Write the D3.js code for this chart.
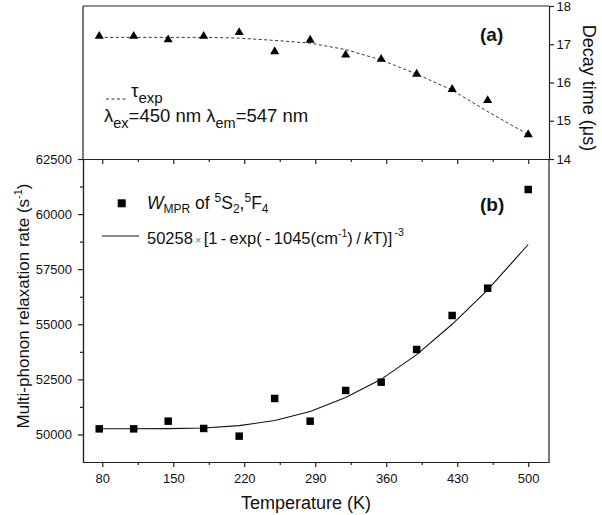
<!DOCTYPE html>
<html>
<head>
<meta charset="utf-8">
<script src="https://cdn.jsdelivr.net/npm/d3@7"></script>
<style>
  html, body { margin: 0; padding: 0; background: #fff; overflow: hidden; }
  svg { display: block; }
  svg text { font-family: "Liberation Sans", Arial, sans-serif; fill: #111; }
  .axis path, .axis line { stroke: #222; stroke-width: 1.2; }
  .axis text { font-size: 13px; }
</style>
</head>
<body>
<div id="root"></div>
<script>
// data
const temps = [77, 111, 145, 180, 215, 250, 285, 320, 355, 390, 425, 460, 500]
const decayTime = [17.21, 17.21, 17.12, 17.21, 17.31, 16.81, 17.11, 16.72, 16.61, 16.22, 15.82, 15.53, 14.64]
const decayFit = [17.18, 17.18, 17.18, 17.18, 17.16, 17.10, 17.03, 16.86, 16.59, 16.22, 15.80, 15.24, 14.64]
const relaxRate = [50254, 50254, 50603, 50272, 49923, 51633, 50603, 51996, 52373, 53857, 55399, 56638, 61116]
const relaxFit = [50258, 50258, 50263, 50295, 50400, 50630, 51040, 51680, 52500, 53620, 55000, 56560, 58620]
const xTicks = [80, 150, 220, 290, 360, 430, 500]
const xMinor = [115, 185, 255, 325, 395, 465]
const leftTicks = [50000, 52500, 55000, 57500, 60000, 62500]
const leftMinor = [51250, 53750, 56250, 58750, 61250]
const rightTicks = [14, 15, 16, 17, 18]

const w = 602, h = 515
const left = 83, right = 549, topY = 6, midY = 159, botY = 462

//scales
const x = d3.scaleLinear().domain([61, 520.5]).range([left, right])
const yTop = d3.scaleLinear().domain([14, 18]).range([midY, topY])
const yBot = d3.scaleLinear().domain([48750, 62500]).range([botY, midY])

const svg = d3.select("#root").append("svg")
    .attr("width", w)
    .attr("height", h)

// frame lines not covered by axes
const frame = [
    [left, topY, right, topY],
    [left, topY, left, midY],
    [right, midY, right, botY]
]
svg.selectAll("line.frame").data(frame).enter().append("line")
    .attr("class", "frame")
    .attr("x1", d => d[0]).attr("y1", d => d[1])
    .attr("x2", d => d[2]).attr("y2", d => d[3])
    .attr("stroke", "#222").attr("stroke-width", 1.2)

// bottom axis
svg.append("g").attr("class", "axis")
    .attr("transform", `translate(0,${botY})`)
    .call(d3.axisBottom(x).tickValues(xTicks).tickSize(5).tickSizeOuter(0).tickPadding(6.5))
svg.append("g").attr("class", "axis")
    .attr("transform", `translate(0,${botY})`)
    .call(d3.axisBottom(x).tickValues(xMinor).tickSize(3).tickSizeOuter(0).tickFormat(""))

// middle line, ticks pointing down
svg.append("g").attr("class", "axis")
    .attr("transform", `translate(0,${midY})`)
    .call(d3.axisBottom(x).tickValues(xTicks).tickSize(5).tickSizeOuter(0).tickFormat(""))
svg.append("g").attr("class", "axis")
    .attr("transform", `translate(0,${midY})`)
    .call(d3.axisBottom(x).tickValues(xMinor).tickSize(3).tickSizeOuter(0).tickFormat(""))

// left axis (b)
svg.append("g").attr("class", "axis")
    .attr("transform", `translate(${left},0)`)
    .call(d3.axisLeft(yBot).tickValues(leftTicks).tickSize(5).tickSizeOuter(0).tickPadding(6).tickFormat(d3.format("d")))
svg.append("g").attr("class", "axis")
    .attr("transform", `translate(${left},0)`)
    .call(d3.axisLeft(yBot).tickValues(leftMinor).tickSize(3).tickSizeOuter(0).tickFormat(""))

// right axis (a)
svg.append("g").attr("class", "axis")
    .attr("transform", `translate(${right},0)`)
    .call(d3.axisRight(yTop).tickValues(rightTicks).tickSize(5).tickSizeOuter(0).tickPadding(2.5).tickFormat(d3.format("d")))

// axis titles
svg.append("text")
    .attr("x", 306).attr("y", 509)
    .attr("text-anchor", "middle").attr("font-size", 18)
    .text("Temperature (K)")

const yl = svg.append("text")
    .attr("transform", "translate(29,306) rotate(-90)")
    .attr("text-anchor", "middle").attr("font-size", 17)
yl.append("tspan").text("Multi-phonon relaxation rate (s")
yl.append("tspan").attr("font-size", 11).attr("dy", -7).text("-1")
yl.append("tspan").attr("dy", 7).text(")")

svg.append("text")
    .attr("transform", "translate(583,88) rotate(90)")
    .attr("text-anchor", "middle").attr("font-size", 18)
    .text("Decay time (\u03bcs)")

// top panel: dashed fit + triangles
const lineTop = d3.line().x((d, i) => x(temps[i])).y(d => yTop(d))
svg.append("path").datum(decayFit)
    .attr("d", lineTop)
    .attr("fill", "none").attr("stroke", "#333").attr("stroke-width", 1)
    .attr("stroke-dasharray", "3,2.5")

svg.selectAll("path.tri").data(decayTime).enter().append("path")
    .attr("class", "tri")
    .attr("d", d3.symbol(d3.symbolTriangle, 36))
    .attr("transform", (d, i) => `translate(${x(temps[i])},${yTop(d)})`)
    .attr("fill", "#000")

// bottom panel: fit line + squares
const lineBot = d3.line().x((d, i) => x(temps[i])).y(d => yBot(d))
svg.append("path").datum(relaxFit)
    .attr("d", lineBot)
    .attr("fill", "none").attr("stroke", "#111").attr("stroke-width", 1.1)

svg.selectAll("path.sq").data(relaxRate).enter().append("path")
    .attr("class", "sq")
    .attr("d", d3.symbol(d3.symbolSquare, 56))
    .attr("transform", (d, i) => `translate(${x(temps[i])},${yBot(d)})`)
    .attr("fill", "#000")

// panel labels
svg.append("text").attr("x", 480).attr("y", 41)
    .attr("font-size", 19).attr("font-weight", "bold").text("(a)")
svg.append("text").attr("x", 480).attr("y", 211)
    .attr("font-size", 19).attr("font-weight", "bold").text("(b)")

// legend (a)
svg.append("line")
    .attr("x1", 106).attr("x2", 127).attr("y1", 99).attr("y2", 99)
    .attr("stroke", "#333").attr("stroke-dasharray", "3,2.5")
const tl = svg.append("text").attr("x", 131).attr("y", 97).attr("font-size", 19)
tl.append("tspan").text("\u03c4")
tl.append("tspan").attr("font-size", 15).attr("dy", 6).text("exp")

const lam = svg.append("text").attr("x", 104).attr("y", 122).attr("font-size", 18.5)
lam.append("tspan").text("\u03bb")
lam.append("tspan").attr("font-size", 14.5).attr("dy", 6).text("ex")
lam.append("tspan").attr("dy", -6).text("=450 nm \u03bb")
lam.append("tspan").attr("font-size", 14.5).attr("dy", 6).text("em")
lam.append("tspan").attr("dy", -6).text("=547 nm")

// legend (b)
svg.append("path")
    .attr("d", d3.symbol(d3.symbolSquare, 64))
    .attr("transform", "translate(121.7,203.3)")
svg.append("line")
    .attr("x1", 102).attr("x2", 139).attr("y1", 236).attr("y2", 236)
    .attr("stroke", "#111").attr("stroke-width", 1.1)

const wl = svg.append("text").attr("x", 147).attr("y", 209).attr("font-size", 17.5)
wl.append("tspan").attr("font-style", "italic").text("W")
wl.append("tspan").attr("font-size", 12).attr("dy", 4).text("MPR")
wl.append("tspan").attr("dy", -4).text(" of ")
wl.append("tspan").attr("font-size", 12).attr("dy", -7).text("5")
wl.append("tspan").attr("dy", 7).text("S")
wl.append("tspan").attr("font-size", 12).attr("dy", 4).text("2")
wl.append("tspan").attr("dy", -4).text(",")
wl.append("tspan").attr("font-size", 12).attr("dy", -7).text("5")
wl.append("tspan").attr("dy", 7).text("F")
wl.append("tspan").attr("font-size", 12).attr("dy", 4).text("4")

const fl = svg.append("text").attr("x", 147).attr("y", 244).attr("font-size", 16.5)
fl.append("tspan").text("50258")
fl.append("tspan").attr("font-size", 11).attr("fill", "#777").text("\u2009\u00d7\u2009")
fl.append("tspan").text("[1\u2009-\u2009exp(\u2009-\u20091045(cm")
fl.append("tspan").attr("font-size", 10.5).attr("dy", -7).text("-1")
fl.append("tspan").attr("dy", 7).text(")\u2009/\u2009")
fl.append("tspan").attr("font-style", "italic").text("k")
fl.append("tspan").text("T)]")
fl.append("tspan").attr("font-size", 10.5).attr("dy", -8).text("\u2009-3")
</script>
</body>
</html>
